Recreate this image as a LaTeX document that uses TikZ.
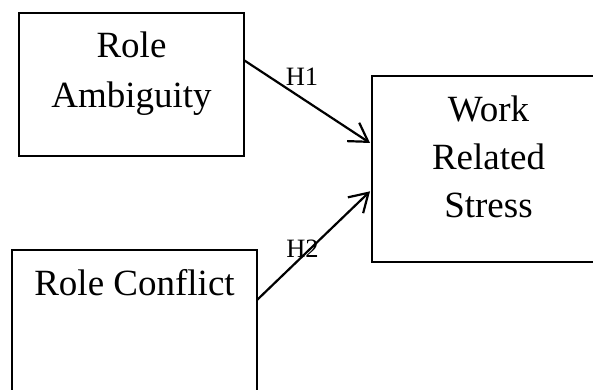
\documentclass[tikz,border=0pt]{standalone}
\usepackage{fontspec}
\setmainfont{Liberation Serif}
\usetikzlibrary{arrows.meta,calc}
\begin{document}
\begin{tikzpicture}[x=1pt,y=-1pt,
  box/.style={draw=black,line width=2pt,rectangle,inner sep=0pt,outer sep=0pt},
  big/.style={anchor=base,inner sep=0pt,font=\fontsize{37}{48}\selectfont},
  hlab/.style={anchor=base,inner sep=0pt,font=\fontsize{26.5}{30}\selectfont},
  link/.style={line width=2.2pt,-{Straight Barb[length=18pt,width=22pt,line width=2.2pt]}}]
\useasboundingbox (0,0) rectangle (593,389);
\clip (0,0) rectangle (593,389);
% boxes
\node[box,minimum width=225pt,minimum height=143pt] (ra) at (131.5,84.5) {};
\node[box,minimum width=245pt,minimum height=160pt] (rc) at (134.5,330) {};
\node[box,minimum width=232pt,minimum height=186pt] (ws) at (488,169) {};
% texts
\node[big] (t1) at (131.5,57.3) {Role};
\node[big] (t2) at (131.5,107.3) {Ambiguity};
\node[big] (t3) at (134.5,295) {Role Conflict};
\node[big] (t4) at (488.5,121.7) {Work};
\node[big] (t5) at (488.5,169.7) {Related};
\node[big] (t6) at (488.5,217.7) {Stress};
% connectors
\coordinate (s1) at ($(ra.north east)!0.33!(ra.south east)$);
\coordinate (e1) at ($(ws.north west)!0.36!(ws.south west)+(-2,0)$);
\coordinate (s2) at ($(rc.north east)!0.3125!(rc.south east)$);
\coordinate (e2) at ($(ws.north west)!0.62!(ws.south west)+(-2,0)$);
\draw[link] (s1) -- (e1);
\draw[link] (s2) -- (e2);
\node[hlab] (h1) at (302,85) {H1};
\node[hlab] (h2) at (302.5,257) {H2};
\end{tikzpicture}
\end{document}
